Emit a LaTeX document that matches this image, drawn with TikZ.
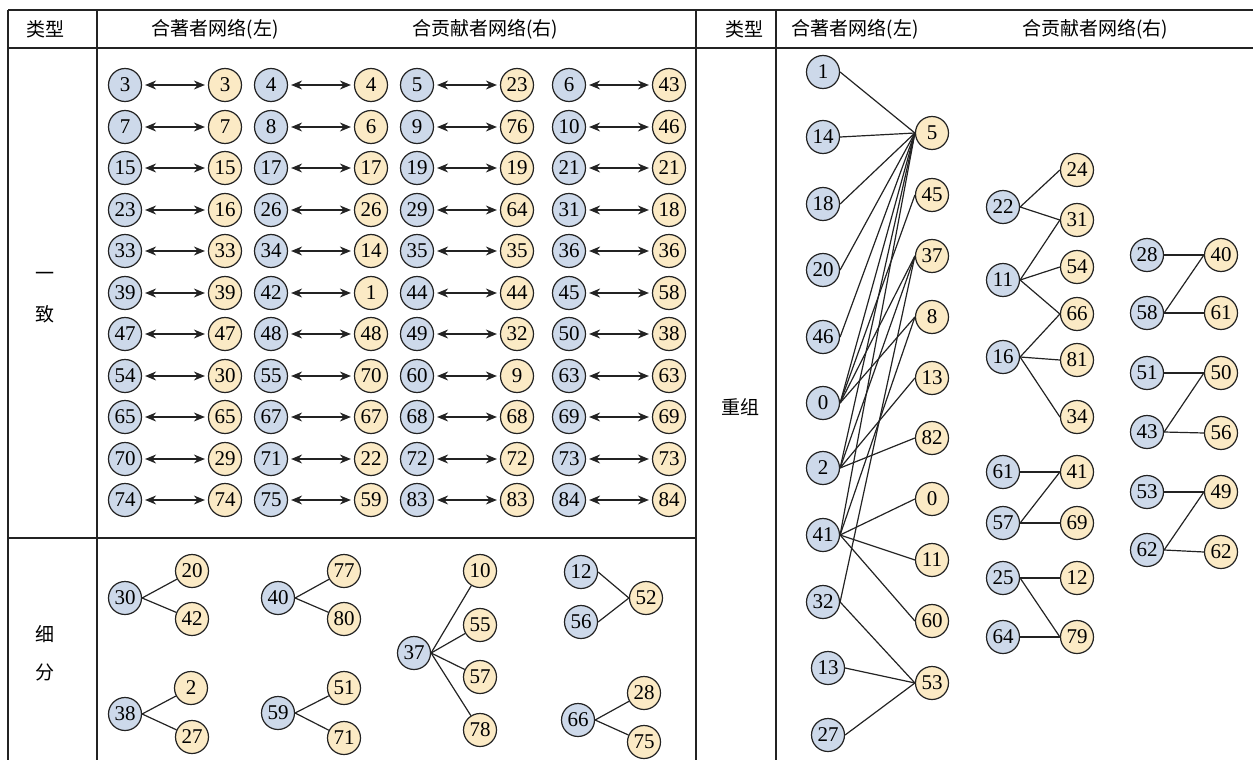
\documentclass[tikz,border=0pt]{standalone}
\usepackage{fontspec}
\setmainfont{Liberation Serif}
\newfontfamily\cjk{Noto Sans CJK SC}
\usetikzlibrary{arrows.meta}
\definecolor{nblue}{RGB}{205,217,234}
\definecolor{nyel}{RGB}{251,234,197}
\definecolor{ink}{RGB}{35,35,35}
\tikzset{
  nd/.style={circle,draw=ink,line width=1.2pt,minimum size=33pt,inner sep=0pt,font=\fontsize{21}{21}\selectfont},
  bn/.style={nd,fill=nblue},
  yn/.style={nd,fill=nyel},
  dbl/.style={{Stealth[length=11pt,width=9pt]}-{Stealth[length=11pt,width=9pt]},line width=1.3pt,draw=ink,shorten <=3pt,shorten >=3pt},
  ln/.style={line width=1.2pt,draw=ink},
  gridline/.style={line width=1.2pt,draw=ink},
  hd/.style={font=\cjk\fontsize{19}{19}\selectfont,inner sep=0pt},
}
\begin{document}
\begin{tikzpicture}[x=1pt,y=-1pt]
\useasboundingbox (0,0) rectangle (1253,760);
% table
\draw[gridline] (8,10) -- (1253,10);
\draw[gridline] (8,48) -- (1253,48);
\draw[gridline] (8,538) -- (696,538);
\draw[gridline] (8,10) -- (8,760);
\draw[gridline] (97,10) -- (97,760);
\draw[line width=1.6pt,draw=ink] (696,10) -- (696,760);
\draw[gridline] (776,10) -- (776,760);
% headers
\node[hd] (h1) at (45,29) {类型};
\node[hd] (h2) at (215,29) {合著者网络(左)};
\node[hd] (h3) at (485,29) {合贡献者网络(右)};
\node[hd] (h4) at (744,29) {类型};
\node[hd] (h5) at (855,29) {合著者网络(左)};
\node[hd] (h6) at (1095,29) {合贡献者网络(右)};
\node[hd] (t1) at (45,276) {一};
\node[hd] (t2) at (45,314) {致};
\node[hd] (t3) at (45,634) {细};
\node[hd] (t4) at (45,672) {分};
\node[hd] (t5) at (740,407) {重组};
% consistent
\foreach \i/\a/\b/\c/\d/\e/\f/\g/\h in {0/3/3/4/4/5/23/6/43,1/7/7/8/6/9/76/10/46,2/15/15/17/17/19/19/21/21,3/23/16/26/26/29/64/31/18,4/33/33/34/14/35/35/36/36,5/39/39/42/1/44/44/45/58,6/47/47/48/48/49/32/50/38,7/54/30/55/70/60/9/63/63,8/65/65/67/67/68/68/69/69,9/70/29/71/22/72/72/73/73,10/74/74/75/59/83/83/84/84}{
  \pgfmathsetmacro\yy{round(85+41.5*\i)}
  \node[bn] (ua\i) at (125,\yy) {\a};
  \node[yn] (va\i) at (225,\yy) {\b};
  \node[bn] (ub\i) at (271,\yy) {\c};
  \node[yn] (vb\i) at (371,\yy) {\d};
  \node[bn] (uc\i) at (417,\yy) {\e};
  \node[yn] (vc\i) at (517,\yy) {\f};
  \node[bn] (ud\i) at (569,\yy) {\g};
  \node[yn] (vd\i) at (669,\yy) {\h};
  \draw[dbl] (ua\i) -- (va\i);
  \draw[dbl] (ub\i) -- (vb\i);
  \draw[dbl] (uc\i) -- (vc\i);
  \draw[dbl] (ud\i) -- (vd\i);
}
% subdivision
\node[bn] (s30) at (125,598) {30};
\node[yn] (s20) at (192,571) {20};
\node[yn] (s42) at (192,619) {42};
\node[bn] (s38) at (125,714) {38};
\node[yn] (s2) at (191,688) {2};
\node[yn] (s27) at (192,737) {27};
\node[bn] (s40) at (278,598) {40};
\node[yn] (s77) at (344,571) {77};
\node[yn] (s80) at (344,619) {80};
\node[bn] (s59) at (278,713) {59};
\node[yn] (s51) at (344,688) {51};
\node[yn] (s71) at (344,738) {71};
\node[bn] (s37) at (414,653) {37};
\node[yn] (s10) at (480,571) {10};
\node[yn] (s55) at (480,625) {55};
\node[yn] (s57) at (480,677) {57};
\node[yn] (s78) at (480,730) {78};
\node[bn] (s12) at (581,572) {12};
\node[bn] (s56) at (581,622) {56};
\node[yn] (s52) at (646,598) {52};
\node[bn] (s66) at (578,720) {66};
\node[yn] (s28) at (644,693) {28};
\node[yn] (s75) at (644,742) {75};
\foreach \s/\t in {30/20,30/42,38/2,38/27,40/77,40/80,59/51,59/71,37/10,37/55,37/57,37/78,66/28,66/75}{
  \draw[ln] (s\s.east) -- (s\t);
}
\draw[ln] (s12.east) -- (s52.west);
\draw[ln] (s56.east) -- (s52.west);
% recombination: left column
\foreach \n/\x/\y in {1/823/72,14/823/137,18/823/204,20/823/270,46/823/337,0/823/403,2/823/468,41/823/535,32/823/602,13/828/668,27/828/735}{
  \node[bn] (c\n) at (\x,\y) {\n};
}
\foreach \n/\y in {5/133,45/195,37/256,8/317,13/378,82/438,0/499,11/560,60/621,53/683}{
  \node[yn] (d\n) at (932,\y) {\n};
}
\foreach \s/\t in {1/5,14/5,18/5,20/5,46/5,0/5,0/45,0/37,0/8,2/5,2/37,2/13,2/82,41/5,41/8,41/0,41/11,41/60,32/37,32/53,13/53,27/53}{
  \draw[ln] (c\s.east) -- (d\t.west);
}
% middle groups
\node[bn] (m22) at (1003,207) {22};
\node[bn] (m11) at (1003,280) {11};
\node[bn] (m16) at (1003,357) {16};
\node[yn] (n24) at (1077,170) {24};
\node[yn] (n31) at (1077,220) {31};
\node[yn] (n54) at (1077,267) {54};
\node[yn] (n66) at (1077,314) {66};
\node[yn] (n81) at (1077,360) {81};
\node[yn] (n34) at (1077,417) {34};
\node[bn] (m61) at (1003,472) {61};
\node[bn] (m57) at (1003,523) {57};
\node[yn] (n41) at (1077,472) {41};
\node[yn] (n69) at (1077,523) {69};
\node[bn] (m25) at (1003,578) {25};
\node[bn] (m64) at (1003,637) {64};
\node[yn] (n12) at (1077,578) {12};
\node[yn] (n79) at (1077,637) {79};
\node[bn] (m28) at (1147,255) {28};
\node[bn] (m58) at (1147,313) {58};
\node[yn] (n40) at (1221,255) {40};
\node[yn] (n61) at (1221,313) {61};
\node[bn] (m51) at (1147,373) {51};
\node[bn] (m43) at (1147,432) {43};
\node[yn] (n50) at (1221,373) {50};
\node[yn] (n56) at (1221,433) {56};
\node[bn] (m53) at (1147,492) {53};
\node[bn] (m62) at (1147,550) {62};
\node[yn] (n49) at (1221,492) {49};
\node[yn] (n62) at (1221,552) {62};
\foreach \s/\t in {22/24,22/31,11/31,11/54,11/66,16/66,16/81,16/34,61/41,57/41,57/69,25/12,25/79,64/79,28/40,58/40,58/61,51/50,43/50,43/56,53/49,62/49,62/62}{
  \draw[ln] (m\s.east) -- (n\t.west);
}
\end{tikzpicture}
\end{document}
